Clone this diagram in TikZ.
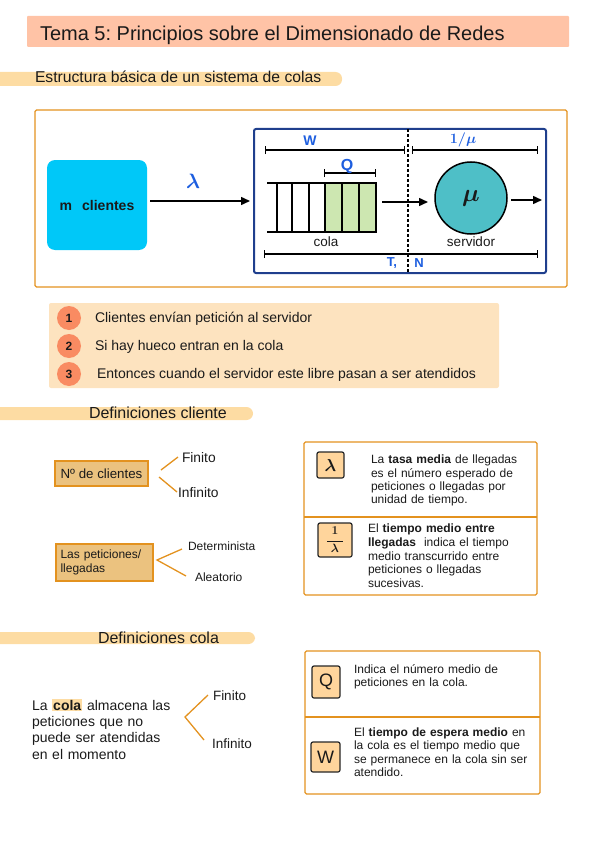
\documentclass[tikz,border=0pt]{standalone}
\usepackage{fontspec}
\setmainfont{Liberation Sans}
\usetikzlibrary{arrows.meta}
\definecolor{titlefill}{HTML}{FFC3A6}
\definecolor{secfill}{HTML}{FDDCA3}
\definecolor{orangeline}{HTML}{E3921F}
\definecolor{cyanbox}{HTML}{00C8F8}
\definecolor{navy}{HTML}{1F3F8D}
\definecolor{qgreen}{HTML}{CDE7B1}
\definecolor{tealc}{HTML}{4EBFC7}
\definecolor{stepfill}{HTML}{FDE3BF}
\definecolor{stepcirc}{HTML}{F98B62}
\definecolor{tanfill}{HTML}{EBC27F}
\definecolor{iconfill}{HTML}{FFD59C}
\definecolor{hand}{HTML}{1D5EDF}
\definecolor{txt}{HTML}{1A1A1A}
\newcommand\myfs[2]{\fontsize{#1}{#2}\selectfont}
\frenchspacing
\begin{document}
\begin{tikzpicture}[x=1pt,y=-1pt,
  every node/.style={inner sep=0pt,outer sep=0pt,text=txt},
  sect/.style={fill=secfill,rounded corners=6.5,anchor=north west},
  obox/.style={draw=orangeline,line width=1.3,rounded corners=1.5,anchor=north west},
  arr/.style={-{Triangle[length=9pt,width=8pt]},line width=1.5},
  bar/.style={{Bar[width=8pt]}-{Bar[width=8pt]},line width=1.3},
  hw/.style={text=hand},
  qline/.style={line width=1.5},
  br/.style={draw=orangeline,line width=1.3},
  icon/.style={fill=iconfill,draw=black!85,line width=1.2,rounded corners=2},
  scirc/.style={circle,fill=stepcirc,minimum size=24,font=\myfs{12}{12}\bfseries},
  para/.style={anchor=north west,align=left}]
\useasboundingbox (0,0) rectangle (599,848);

% title
\node[fill=titlefill,minimum width=542,minimum height=31,anchor=north west,rounded corners=1] (title) at (27,16) {};
\node[anchor=base west,font=\myfs{20}{24}] (titletext) at (40,41) {Tema 5: Principios sobre el Dimensionado de Redes};

% section 1
\node[sect,minimum width=352,minimum height=14] (sec1) at (-10,72) {};
\node[anchor=base west,font=\myfs{15.7}{18}] (sec1t) at (35,83) {Estructura básica de un sistema de colas};

% diagram
\node[obox,minimum width=532,minimum height=177] (outer) at (35,110) {};
\node[fill=cyanbox,rounded corners=8,minimum width=100,minimum height=90,font=\myfs{14}{16}\bfseries] (cli) at (97,205) {m\hspace{10pt}clientes\hspace{10pt}};
\node[draw=navy,line width=2,rounded corners=2,minimum width=292,minimum height=144] (sys) at (400,201) {};
\draw[arr,shorten <=3pt,shorten >=4pt] (cli.east |- sys.west) -- (sys.west);
\node[hw,font=\myfs{22}{22}\boldmath] (lam) at (193,181) {$\lambda$};

\coordinate (d1) at (408,129);
\coordinate (d2) at (408,273);
\draw[line width=1.3,dash pattern=on 3pt off 2pt] (d1) -- (d2);

\coordinate (w1) at (265,150); \coordinate (w2) at (405,150);
\coordinate (m1) at (412,150); \coordinate (m2) at (538,150);
\coordinate (q1) at (324,173); \coordinate (q2) at (376,173);
\coordinate (t1) at (264,254); \coordinate (t2) at (538,254);
\draw[bar] (w1) -- (w2);
\draw[bar] (m1) -- (m2);
\draw[bar] (q1) -- (q2);
\draw[bar] (t1) -- (t2);
\node[hw,font=\myfs{14}{14}\bfseries] (wl) at (310,141) {W};
\node[hw,font=\myfs{15}{15}\boldmath] (ml) at (463,140) {$1/\mu$};
\node[hw,font=\myfs{16}{16}\bfseries] (ql) at (347,166) {Q};
\node[hw,font=\myfs{13}{13}\bfseries] (tl) at (392,263) {T,};
\node[hw,font=\myfs{13}{13}\bfseries] (nl) at (419,263) {N};

% queue
\fill[qgreen] (325,183) rectangle (376,232);
\draw[qline] (267,183) -- (377,183);
\draw[qline] (267,232) -- (377,232);
\foreach \xx in {277,292,309,325,342,359,376} \draw[qline] (\xx,183) -- (\xx,232);
\node[font=\myfs{13.5}{15}] (colal) at (326,242) {cola};

\node[circle,fill=tealc,draw=black,line width=1.5,minimum size=72,font=\myfs{26}{26}\boldmath] (srv) at (471,198) {$\mu$};
\node[font=\myfs{13.5}{15}] (servl) at (471,242) {servidor};
\coordinate (qo) at (382,202);
\coordinate (out) at (542,200);
\draw[arr,shorten >=7pt] (qo) -- (srv.west |- qo);
\draw[arr,shorten <=4pt] (srv.east |- out) -- (out);

% steps
\node[fill=stepfill,minimum width=450,minimum height=85,anchor=north west,rounded corners=2] (steps) at (49,303) {};
\node[scirc] (c1) at (69,318) {1};
\node[scirc] (c2) at (69,346) {2};
\node[scirc] (c3) at (69,374) {3};
\node[anchor=base west,font=\myfs{14}{16}] (s1) at (95,322.5) {Clientes envían petición al servidor};
\node[anchor=base west,font=\myfs{14}{16}] (s2) at (95,350.5) {Si hay hueco entran en la cola};
\node[anchor=base west,font=\myfs{14}{16}] (s3) at (97,378.5) {Entonces cuando el servidor este libre pasan a ser atendidos};

% section 2
\node[sect,minimum width=263,minimum height=13] (sec2) at (-10,407) {};
\node[anchor=base west,font=\myfs{16}{18}] (sec2t) at (89,418.5) {Definiciones cliente};

\node[fill=tanfill,draw=orangeline,line width=1.2,minimum width=93,minimum height=25,font=\myfs{13.3}{15}] (nc) at (101.5,473.5) {Nº de clientes};
\node[anchor=base west,font=\myfs{13.8}{15}] (fin1) at (182,462.5) {Finito};
\node[anchor=base west,font=\myfs{13.8}{15}] (inf1) at (178,497) {Infinito};
\coordinate (b1a) at (161,470); \coordinate (b1b) at (178,457);
\coordinate (b2a) at (159,477); \coordinate (b2b) at (177,492);
\draw[br] (b1a) -- (b1b);
\draw[br] (b2a) -- (b2b);

\node[fill=tanfill,draw=orangeline,line width=1.2,minimum width=97,minimum height=37,text width=88,align=left,font=\myfs{12}{14}] (pb) at (104.5,562.5) {Las peticiones/\\llegadas};
\node[anchor=base west,font=\myfs{12}{14}] (det) at (188,550) {Determinista};
\node[anchor=base west,font=\myfs{12}{14}] (ale) at (195,581) {Aleatorio};
\coordinate (v2) at (157,560); \coordinate (d2e) at (182,549); \coordinate (a2e) at (186,576);
\draw[br] (d2e) -- (v2) -- (a2e);

% definition box 1
\node[obox,minimum width=233,minimum height=153] (db1) at (304,442) {};
\coordinate (db1l) at (304,517); \coordinate (db1r) at (537,517);
\draw[br] (db1l) -- (db1r);
\node[icon,minimum width=27,minimum height=26,font=\myfs{18}{18}\boldmath] (i1) at (330.5,465) {$\lambda$};
\node[para,text width=170,font=\myfs{12}{13.35}] (tx1) at (371,455) {La \textbf{tasa media} de llegadas\\es el número esperado de\\peticiones o llegadas por\\unidad de tiempo.};
\node[icon,minimum width=34,minimum height=34,font=\myfs{12.5}{12.5}\boldmath] (i2) at (335,540) {$\displaystyle\frac{\;1\;}{\;\lambda\;}$};
\node[para,text width=170,font=\myfs{12}{13.7}] (tx2) at (368,524) {El \textbf{tiempo medio entre}\\\textbf{llegadas}\ \ indica el tiempo\\medio transcurrido entre\\peticiones o llegadas\\sucesivas.};

% section 3
\node[sect,minimum width=265,minimum height=12] (sec3) at (-10,632) {};
\node[anchor=base west,font=\myfs{16}{18}] (sec3t) at (98,643.5) {Definiciones cola};

\node[para,text width=170,font=\myfs{14}{16.3}] (colatxt) at (32,700) {La {\setlength\fboxsep{1pt}\smash{\colorbox{secfill}{\textbf{cola}}}} almacena las\\peticiones que no\\puede ser atendidas\\en el momento};
\node[anchor=base west,font=\myfs{13.5}{15}] (fin3) at (213,700) {Finito};
\node[anchor=base west,font=\myfs{13.5}{15}] (inf3) at (212,748) {Infinito};
\coordinate (v3) at (185,717); \coordinate (f3e) at (208,695); \coordinate (i3e) at (204,740);
\draw[br] (f3e) -- (v3) -- (i3e);

% definition box 2
\node[obox,minimum width=235,minimum height=143] (db2) at (305,651) {};
\coordinate (db2l) at (305,717); \coordinate (db2r) at (540,717);
\draw[br] (db2l) -- (db2r);
\node[icon,minimum width=28,minimum height=32,font=\myfs{18}{18}] (iq) at (326,682) {Q};
\node[para,text width=180,font=\myfs{12}{13}] (txq) at (354,665) {Indica el número medio de\\peticiones en la cola.};
\node[icon,minimum width=29,minimum height=30,font=\myfs{18}{18}] (iw) at (325.5,757) {W};
\node[para,text width=185,font=\myfs{12}{13.2}] (txw) at (354,728) {El \textbf{tiempo de espera medio} en\\la cola es el tiempo medio que\\se permanece en la cola sin ser\\atendido.};
\end{tikzpicture}
\end{document}
